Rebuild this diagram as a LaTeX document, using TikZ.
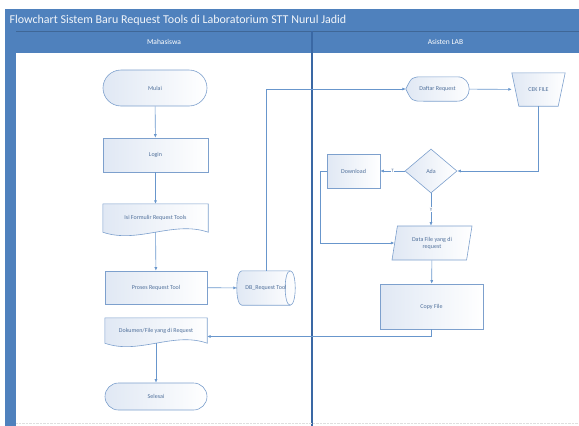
\documentclass[tikz,border=0pt]{standalone}
\usepackage{fontspec}
\setmainfont{Carlito}
\usetikzlibrary{shapes.geometric,shapes.misc,arrows.meta,backgrounds}
\definecolor{headblue}{RGB}{79,129,189}
\definecolor{laneline}{RGB}{58,104,164}
\definecolor{flowblue}{RGB}{104,150,204}
\definecolor{edgeblue}{RGB}{125,160,205}
\definecolor{boxfill}{RGB}{224,232,244}
\definecolor{labelblue}{RGB}{80,112,155}
\newcommand{\docoutline}[2]{%
  \path[shapebody] (#1.north west) -- (#1.north east) -- (#1.south east)
    .. controls ([xshift=-#2,yshift=12pt]#1.south east) and ([xshift=#2,yshift=-12pt]#1.south west) .. (#1.south west) -- cycle;}
\tikzset{
flowtext/.style={font=\fontsize{6}{7}\selectfont, text=labelblue, align=center},
shapebody/.style={draw=edgeblue, line width=0.6pt, left color=boxfill, right color=white},
boxbase/.style={flowtext, shapebody, inner sep=0pt},
processbox/.style={boxbase, rectangle},
terminalnode/.style={boxbase, rounded rectangle},
decisionnode/.style={boxbase, diamond},
ionode/.style={boxbase, trapezium, trapezium left angle=66, trapezium right angle=114, trapezium stretches body},
outlinenode/.style={flowtext, rectangle, inner sep=0pt},
flowline/.style={draw=flowblue, line width=0.6pt},
flowarrow/.style={flowline, -{Latex[length=3.5pt,width=3pt]}},
branchlabel/.style={font=\fontsize{5}{6}\selectfont, text=labelblue, fill=white, inner sep=0.6pt},
titletext/.style={font=\fontsize{12}{14}\selectfont, text=white!92!headblue},
lanetext/.style={font=\fontsize{7.5}{9}\selectfont, text=white},
}
\begin{document}
\begin{tikzpicture}[x=1pt,y=-1pt]
\useasboundingbox (0,0) rectangle (579,426);
% swimlane frame
\fill[headblue] (5,9) rectangle (579,53);
\fill[headblue] (5,53) rectangle (16,426);
\draw[headblue!80!black, line width=0.4pt] (16,31) -- (579,31);
\draw[laneline, line width=1.2pt] (312,31) -- (312,426);
\draw[gray!25, densely dotted] (16,423) -- (579,423);
\node[titletext, anchor=west] at (6,20) (title) {Flowchart Sistem Baru Request Tools di Laboratorium STT Nurul Jadid};
\node[lanetext] at (164,42) (mhs) {Mahasiswa};
\node[lanetext] at (445.5,42) (asisten) {Asisten LAB};

% Mahasiswa
\node[terminalnode, minimum width=104, minimum height=36] at (155,88) (mulai) {Mulai};
\node[processbox, minimum width=105, minimum height=34] at (155.5,155) (login) {Login};
\node[outlinenode, minimum width=105, minimum height=28] at (155.5,218) (isi) {Isi Formulir Request Tools};
\node[processbox, minimum width=102, minimum height=33] at (156,287.5) (proses) {Proses Request Tool};
\node[outlinenode, minimum width=58, minimum height=34] at (266,288) (db) {DB\_Request Tool};
\node[outlinenode, minimum width=102, minimum height=25] at (156,330.5) (dokumen) {Dokumen/File yang di Request};
\node[terminalnode, minimum width=102, minimum height=27] at (156,396.5) (selesai) {Selesai};

% Asisten LAB
\node[outlinenode, minimum width=63, minimum height=24] at (437.5,89) (daftar) {Daftar Request};
\node[outlinenode, minimum width=53, minimum height=33] at (538.5,89.5) (cek) {CEK FILE};
\node[decisionnode, minimum width=52, minimum height=44] at (431,171) (ada) {Ada};
\node[processbox, minimum width=53, minimum height=34] at (353.5,171) (download) {Download};
\node[ionode, minimum width=80, minimum height=34] at (432,243) (datafile) {Data File yang di\\request};
\node[processbox, minimum width=103, minimum height=45] at (431.5,306.5) (copy) {Copy File};

\begin{scope}[on background layer]
  \docoutline{isi}{35pt}
  \docoutline{dokumen}{34pt}
  % display
  \path[shapebody] (daftar.west) .. controls ([xshift=6pt]daftar.north west) .. ([xshift=18pt]daftar.north west)
    -- ([xshift=-12pt]daftar.north east) .. controls ([xshift=4pt]daftar.north east) and ([xshift=4pt]daftar.south east) .. ([xshift=-12pt]daftar.south east)
    -- ([xshift=18pt]daftar.south west) .. controls ([xshift=6pt]daftar.south west) .. (daftar.west) -- cycle;
  % manual operation
  \path[shapebody] (cek.north west) -- (cek.north east) -- ([xshift=-7pt]cek.south east) -- ([xshift=7pt]cek.south west) -- cycle;
  % stored data
  \path[shapebody] ([xshift=5pt]db.north west) -- ([xshift=-5pt]db.north east)
    .. controls ([xshift=1.7pt]db.north east) and ([xshift=1.7pt]db.south east) .. ([xshift=-5pt]db.south east)
    -- ([xshift=5pt]db.south west)
    .. controls ([xshift=-1.7pt]db.south west) and ([xshift=-1.7pt]db.north west) .. ([xshift=5pt]db.north west) -- cycle;
  \draw[draw=edgeblue, line width=0.6pt] ([xshift=-5pt]db.north east)
    .. controls ([xshift=-11.7pt]db.north east) and ([xshift=-11.7pt]db.south east) .. ([xshift=-5pt]db.south east);
\end{scope}

% connectors
\draw[flowarrow] (mulai) -- (login);
\draw[flowarrow] (login) -- (isi);
\draw[flowarrow] (isi) -- (proses);
\draw[flowarrow] (proses) -- (db);
\draw[flowarrow] (db.north) |- (daftar.west);
\draw[flowarrow] (daftar) -- (cek);
\draw[flowarrow] (cek.south) |- (ada.east);
\draw[flowarrow] (ada.west) -- node[branchlabel] {T} (download.east);
\draw[flowarrow] (ada.south) -- node[branchlabel] {Y} (ada.south |- datafile.north);
\draw[flowarrow] (download.west) -- ++(-6,0) |- (datafile.west);
\draw[flowarrow] (datafile) -- (copy);
\draw[flowarrow] (copy.south) |- ([yshift=-6pt]dokumen.east);
\draw[flowarrow] (dokumen) -- (selesai);
\end{tikzpicture}
\end{document}
